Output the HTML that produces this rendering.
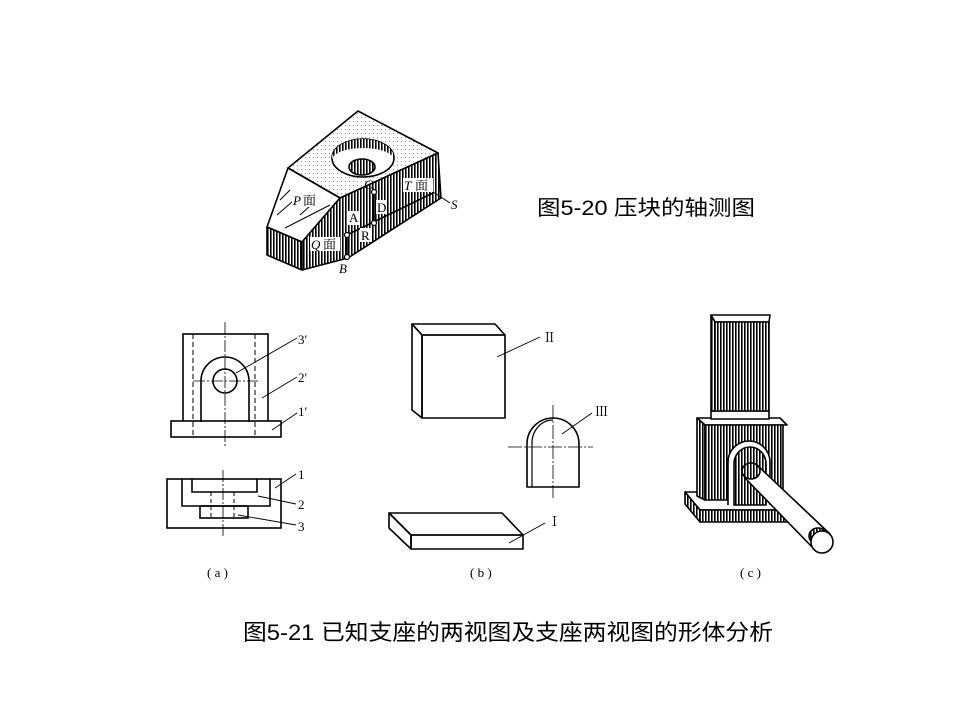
<!DOCTYPE html>
<html><head><meta charset="utf-8"><style>
html,body{margin:0;padding:0;background:#fff;}
svg{display:block;}
.t{font-family:"Liberation Serif","Noto Serif CJK SC",serif;}
.c{font-family:"Liberation Sans","Noto Sans CJK SC",sans-serif;}
</style></head><body>
<svg width="960" height="720" viewBox="0 0 960 720" xmlns="http://www.w3.org/2000/svg">
<defs>
<pattern id="vs" width="3" height="10" patternUnits="userSpaceOnUse"><rect width="3" height="10" fill="#fff"/><rect width="1.6" height="10" fill="#000"/></pattern>
<pattern id="dot" width="4" height="4" patternUnits="userSpaceOnUse"><rect width="4" height="4" fill="#fff"/><rect x="1" y="1" width="0.8" height="0.8" fill="#555"/></pattern>
</defs>
<g stroke="#000" stroke-width="1.6" fill="none" stroke-linejoin="round">
<!-- Top figure -->
<polygon points="288,168 358,111 438,153 340,198" fill="url(#dot)"/>
<ellipse cx="363" cy="158" rx="31" ry="19" fill="#fff"/>
<path d="M332,158 A31,19 0 0 1 394,158 L394,160 A31,12 0 0 0 332,160Z" fill="url(#vs)" stroke="none"/>
<ellipse cx="362" cy="167" rx="13" ry="8" fill="url(#vs)"/>
<polygon points="288,168 340,198 302,242 267,227" fill="#fff"/>
<g stroke-width="1"><line x1="280" y1="200" x2="290" y2="190"/><line x1="277" y1="215" x2="300" y2="195"/><line x1="300" y1="215" x2="320" y2="197"/><line x1="285" y1="228" x2="330" y2="205"/></g>
<polygon points="267,227 302,242 302,270 267,255" fill="url(#vs)"/>
<polygon points="302,242 340,198 438,153 441,198 348,258 302,270" fill="url(#vs)"/>
<line x1="347" y1="235" x2="433" y2="193"/>
<line x1="374" y1="192" x2="374" y2="223"/>
<line x1="347" y1="235" x2="347" y2="257"/>
<line x1="433" y1="192" x2="450" y2="203" stroke-width="1"/>
<g fill="#fff" stroke-width="1.2"><circle cx="374" cy="192" r="2.5"/><circle cx="374" cy="223" r="2.5"/><circle cx="347" cy="235" r="2.5"/><circle cx="347" cy="257" r="2.5"/></g>
</g>
<g class="t" font-size="13" fill="#000">
<rect x="292" y="193" width="28" height="14" fill="#fff"/><text x="293" y="205" font-style="italic">P</text><text x="303" y="205">面</text>
<rect x="310" y="237" width="30" height="14" fill="#fff"/><text x="311" y="249" font-style="italic">Q</text><text x="323" y="249">面</text>
<rect x="403" y="178" width="30" height="14" fill="#fff"/><text x="404" y="190" font-style="italic">T</text><text x="415" y="190">面</text>
<rect x="348" y="211" width="11" height="14" fill="#fff"/><text x="349" y="222">A</text>
<rect x="376" y="200" width="11" height="14" fill="#fff"/><text x="377" y="212">D</text>
<rect x="360" y="228" width="11" height="14" fill="#fff"/><text x="361" y="240">R</text>
<text x="364" y="189" font-style="italic">C</text>
<text x="339" y="273" font-style="italic">B</text>
<text x="451" y="209" font-style="italic">S</text>
</g>
<text class="c" x="537" y="215" font-size="21" textLength="218" lengthAdjust="spacingAndGlyphs">图5-20  压块的轴测图</text>

<!-- (a) -->
<g stroke="#000" stroke-width="1.6" fill="none">
<rect x="183" y="334" width="85" height="88"/>
<rect x="171" y="421" width="110" height="16" fill="#fff"/>
<path d="M201,422 L201,381 A24,24 0 0 1 249,381 L249,422"/>
<circle cx="225" cy="381" r="12"/>
<g stroke-width="1" stroke-dasharray="5,3"><line x1="193" y1="334" x2="193" y2="437"/><line x1="255" y1="334" x2="255" y2="437"/></g>
<g stroke-width="0.8" stroke-dasharray="12,2,2,2"><line x1="225" y1="322" x2="225" y2="446"/><line x1="193" y1="381" x2="258" y2="381"/></g>
<g stroke-width="0.9"><line x1="236" y1="373" x2="297" y2="338"/><line x1="262" y1="398" x2="297" y2="377"/><line x1="272" y1="430" x2="297" y2="413"/></g>
<rect x="167" y="479" width="114" height="49"/>
<path d="M182,479 L182,506 L270,506 L270,479 M192,479 L192,492 L257,492 L257,479"/>
<rect x="200" y="506" width="48" height="12"/>
<g stroke-width="1" stroke-dasharray="4,3"><line x1="211" y1="492" x2="211" y2="518"/><line x1="234" y1="492" x2="234" y2="518"/></g>
<line x1="223" y1="470" x2="223" y2="538" stroke-width="0.8" stroke-dasharray="12,2,2,2"/>
<g stroke-width="0.9"><line x1="275" y1="488" x2="296" y2="474"/><line x1="258" y1="496" x2="296" y2="504"/><line x1="238" y1="515" x2="296" y2="525"/></g>
</g>
<g class="t" font-size="13" fill="#000">
<text x="298" y="344">3′</text><text x="298" y="382">2′</text><text x="298" y="416">1′</text>
<text x="298" y="479">1</text><text x="298" y="509">2</text><text x="298" y="531">3</text>
<text x="207" y="577">( a )</text><text x="470" y="577">( b )</text><text x="740" y="577">( c )</text>
</g>

<!-- (b) -->
<g stroke="#000" stroke-width="1.6" fill="none" stroke-linejoin="round">
<polygon points="412,324 495,324 505,335 422,335"/>
<polygon points="412,324 422,335 422,418 412,410"/>
<rect x="422" y="335" width="83" height="83"/>
<line x1="497" y1="357" x2="540" y2="337" stroke-width="0.9"/>
<path d="M527,487 L527,444 A26,26 0 0 1 579,444 L579,487 Z"/>
<path d="M532,487 L532,444 A21,23 0 0 1 553,420" stroke-width="1.2"/>
<g stroke-width="0.8" stroke-dasharray="14,2,2,2"><line x1="508" y1="447" x2="593" y2="447"/><line x1="553" y1="405" x2="553" y2="498"/></g>
<line x1="562" y1="434" x2="592" y2="413" stroke-width="0.9"/>
<polygon points="389,513 502,513 523,535 411,535"/>
<polygon points="389,513 411,535 411,549 389,528"/>
<rect x="411" y="535" width="112" height="14"/>
<line x1="509" y1="543" x2="545" y2="523" stroke-width="0.9"/>
</g>
<g class="t" font-size="13" fill="#000"><text x="543" y="342">Ⅱ</text><text x="595" y="416">Ⅲ</text><text x="548" y="526">Ⅰ</text></g>

<!-- (c) -->
<g stroke="#000" stroke-width="1.6" fill="none" stroke-linejoin="round">
<polygon points="685,492 774,492 800,510 700,510" fill="#fff"/>
<polygon points="685,492 700,510 700,522 685,504" fill="url(#vs)"/>
<rect x="700" y="510" width="100" height="12" fill="url(#vs)"/>
<polygon points="697,418 780,418 787,425 705,425" fill="#fff"/>
<polygon points="697,418 705,425 705,500 697,496" fill="url(#vs)"/>
<rect x="705" y="425" width="78" height="75" fill="url(#vs)"/>
<path d="M728,505 L728,462 A21,21 0 0 1 770,462 L770,505" fill="#fff"/>
<path d="M734,505 L734,464 A16,17 0 0 1 766,464 L766,505 Z" fill="url(#vs)"/>
<rect x="711" y="411" width="58" height="8" fill="#fff"/>
<polygon points="711,315 770,315 769,322 715,322" fill="#fff"/>
<polygon points="711,315 715,322 715,411 711,411" fill="url(#vs)"/>
<rect x="715" y="322" width="54" height="89" fill="url(#vs)"/>
<polygon points="756,464 830,534 815,550 745,478" fill="#fff"/>
<ellipse cx="751" cy="471" rx="9" ry="8" fill="url(#vs)"/>
<ellipse cx="818" cy="536" rx="9" ry="8" fill="url(#vs)"/>
<circle cx="822" cy="542" r="11" fill="#fff"/>
</g>

<text class="c" x="243" y="640" font-size="22" textLength="530" lengthAdjust="spacingAndGlyphs">图5-21  已知支座的两视图及支座两视图的形体分析</text>
</svg>
</body></html>
